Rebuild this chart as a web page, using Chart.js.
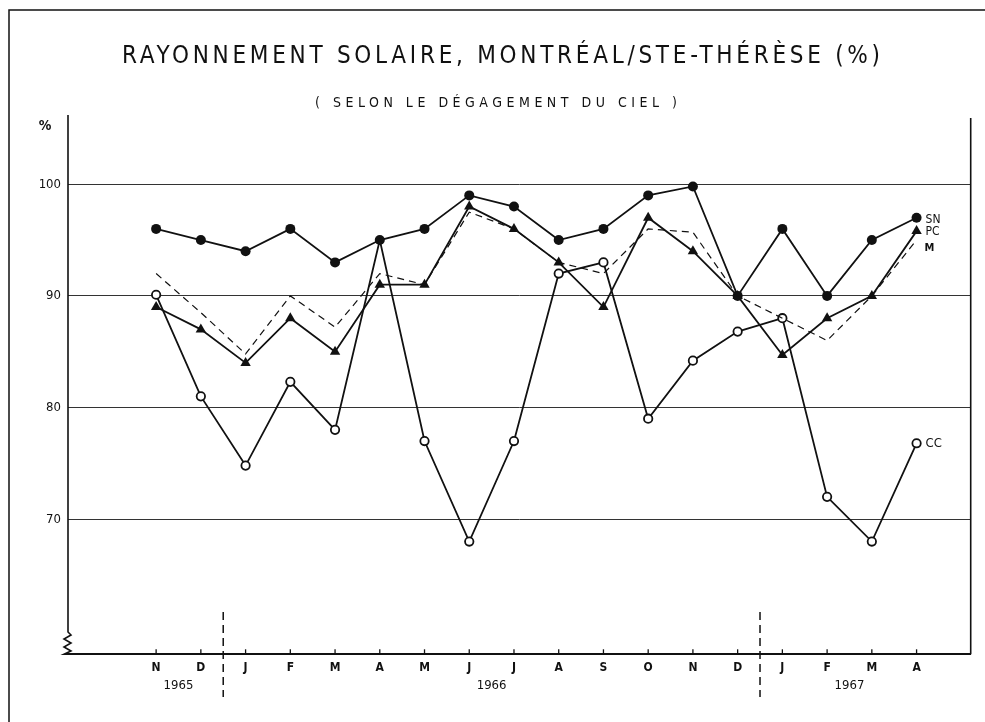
<!DOCTYPE html>
<html>
<head>
<meta charset="utf-8">
<script src="https://cdn.jsdelivr.net/npm/chart.js@4.4.1/dist/chart.umd.min.js"></script>
<style>
  html, body { margin: 0; padding: 0; background: #fff; }
  canvas { display: block; }
</style>
</head>
<body>
<canvas id="solar" width="985" height="722"></canvas>
<script>
// Month categories, Nov 1965 .. Apr 1967
const months = ['N', 'D', 'J', 'F', 'M', 'A', 'M', 'J', 'J', 'A', 'S', 'O', 'N', 'D', 'J', 'F', 'M', 'A'];
const years = ['1965', '1966', '1967'];
const yTicks = [70, 80, 90, 100];

// Series (% of solar radiation)
const snValues = [96, 95, 94, 96, 93, 95, 96, 99, 98, 95, 96, 99, 99.8, 90, 96, 90, 95, 97];
const pcValues = [89, 87, 84, 88, 85, 91, 91, 98, 96, 93, 89, 97, 94, 90, 84.7, 88, 90, 95.8];
const mValues  = [92, 88.5, 84.8, 90, 87.2, 92, 91, 97.5, 96, 93, 92, 96, 95.7, 90, 88, 86, 90, 95];
const ccValues = [90.1, 81, 74.8, 82.3, 78, 95, 77, 68, 77, 92, 93, 79, 84.2, 86.8, 88, 72, 68, 76.8];

const FONT = "'DejaVu Sans Condensed', 'Liberation Sans Narrow', 'DejaVu Sans', sans-serif";

function toPoints(values) {
    return values.map((v, i) => ({ x: i, y: v }));
}

function spacedText(ctx, text, cx, cy, targetWidth) {
    ctx.letterSpacing = '0px';
    const w = ctx.measureText(text).width;
    const sp = Math.max(0, (targetWidth - w) / (text.length - 1));
    ctx.letterSpacing = sp + 'px';
    ctx.textAlign = 'left';
    ctx.fillText(text, cx - (w + sp * (text.length - 1)) / 2, cy);
    ctx.letterSpacing = '0px';
}

const decorations = {
    id: 'decorations',
    beforeDraw(chart) {
        const ctx = chart.ctx;
        ctx.save();
        ctx.fillStyle = '#fff';
        ctx.fillRect(0, 0, chart.width, chart.height);
        ctx.restore();
    },
    afterDraw(chart) {
        const ctx = chart.ctx;
        const area = chart.chartArea;
        const xs = chart.scales.x;
        const ys = chart.scales.y;
        ctx.save();
        ctx.strokeStyle = '#111';
        ctx.fillStyle = '#111';

        // outer frame (top and left)
        ctx.lineWidth = 1.5;
        ctx.beginPath();
        ctx.moveTo(9, 722);
        ctx.lineTo(9, 10);
        ctx.lineTo(985, 10);
        ctx.stroke();

        // titles
        ctx.textBaseline = 'middle';
        ctx.font = '24px ' + FONT;
        spacedText(ctx, 'RAYONNEMENT SOLAIRE, MONTRÉAL/STE-THÉRÈSE (%)', 501, 57, 758);
        ctx.font = '14px ' + FONT;
        spacedText(ctx, '( SELON LE DÉGAGEMENT DU CIEL )', 496, 103, 362);

        ctx.font = 'bold 14px ' + FONT;
        ctx.textAlign = 'center';
        ctx.fillText('%', 45, 126);

        // left axis with break mark
        ctx.lineWidth = 1.6;
        ctx.beginPath();
        ctx.moveTo(area.left, area.top);
        ctx.lineTo(area.left, 632);
        ctx.lineTo(area.left + 3, 635);
        ctx.lineTo(area.left - 4, 639);
        ctx.lineTo(area.left + 3, 643);
        ctx.lineTo(area.left - 4, 647);
        ctx.lineTo(area.left + 3, 651);
        ctx.lineTo(area.left - 4, area.bottom);
        ctx.lineTo(area.left, area.bottom);
        ctx.stroke();

        // right axis
        ctx.beginPath();
        ctx.moveTo(area.right, area.top + 3);
        ctx.lineTo(area.right, area.bottom);
        ctx.stroke();

        // tick marks on the month axis
        ctx.lineWidth = 1.3;
        months.forEach((m, i) => {
            const px = xs.getPixelForValue(i);
            ctx.beginPath();
            ctx.moveTo(px, area.bottom - 5);
            ctx.lineTo(px, area.bottom);
            ctx.stroke();
        });

        // year separators
        ctx.lineWidth = 1.5;
        ctx.setLineDash([8, 5]);
        [1.5, 13.5].forEach(v => {
            const px = xs.getPixelForValue(v);
            ctx.beginPath();
            ctx.moveTo(px, 612);
            ctx.lineTo(px, 697);
            ctx.stroke();
        });
        ctx.setLineDash([]);

        // year labels
        ctx.font = '13px ' + FONT;
        ctx.textAlign = 'center';
        [0.5, 7.5, 15.5].forEach((v, i) => {
            ctx.fillText(years[i], xs.getPixelForValue(v), 686);
        });

        // series end labels
        const last = months.length - 1;
        const lx = xs.getPixelForValue(last) + 9;
        ctx.font = '12px ' + FONT;
        ctx.textAlign = 'left';
        ctx.fillText('SN', lx, ys.getPixelForValue(snValues[last]) + 2);
        ctx.fillText('PC', lx, ys.getPixelForValue(pcValues[last]) + 1);
        ctx.font = 'bold 11px ' + FONT;
        ctx.fillText('M', lx - 1, ys.getPixelForValue(mValues[last]) + 8);
        ctx.font = '13px ' + FONT;
        ctx.fillText('CC', lx, ys.getPixelForValue(ccValues[last]));
        ctx.restore();
    }
};

new Chart(document.getElementById('solar'), {
    type: 'line',
    data: {
        datasets: [
            {
                label: 'M',
                data: toPoints(mValues),
                borderColor: '#111',
                borderWidth: 1.2,
                borderDash: [7, 5],
                pointRadius: 0,
                tension: 0
            },
            {
                label: 'CC',
                data: toPoints(ccValues),
                borderColor: '#111',
                borderWidth: 1.8,
                pointStyle: 'circle',
                // hide the open marker where it sits under a SN dot
                pointRadius: c => ccValues[c.dataIndex] === snValues[c.dataIndex] ? 0 : 4.2,
                pointBorderWidth: 1.8,
                pointBackgroundColor: '#fff',
                pointBorderColor: '#111',
                tension: 0
            },
            {
                label: 'PC',
                data: toPoints(pcValues),
                borderColor: '#111',
                borderWidth: 1.8,
                pointStyle: 'triangle',
                pointRadius: 6,
                pointBorderWidth: 0,
                pointBackgroundColor: '#111',
                pointBorderColor: '#111',
                tension: 0
            },
            {
                label: 'SN',
                data: toPoints(snValues),
                borderColor: '#111',
                borderWidth: 1.8,
                pointStyle: 'circle',
                pointRadius: 5,
                pointBorderWidth: 0,
                pointBackgroundColor: '#111',
                pointBorderColor: '#111',
                tension: 0
            }
        ]
    },
    options: {
        responsive: false,
        animation: false,
        devicePixelRatio: 1,
        layout: { padding: { left: 0, right: 14.3, top: 115, bottom: 0 } },
        plugins: {
            legend: { display: false },
            title: { display: false },
            tooltip: { enabled: false }
        },
        scales: {
            x: {
                type: 'linear',
                min: -1.97,
                max: 18.21,
                afterBuildTicks: scale => { scale.ticks = months.map((m, i) => ({ value: i })); },
                afterFit: scale => { scale.height = 722 - 654.3; },
                grid: { display: false },
                border: { display: true, color: '#111', width: 2 },
                ticks: {
                    autoSkip: false,
                    maxRotation: 0,
                    padding: -2,
                    color: '#111',
                    font: { family: FONT, size: 12, weight: 'bold' },
                    callback: v => months[v]
                }
            },
            y: {
                type: 'linear',
                min: 57.9,
                max: 106.2,
                afterBuildTicks: scale => { scale.ticks = yTicks.map(v => ({ value: v })); },
                afterFit: scale => { scale.width = 68; },
                grid: { color: '#333', lineWidth: 1, drawTicks: false },
                border: { display: false },
                ticks: {
                    padding: 7,
                    color: '#111',
                    font: { family: FONT, size: 13 }
                }
            }
        }
    },
    plugins: [decorations]
});
</script>
</body>
</html>
